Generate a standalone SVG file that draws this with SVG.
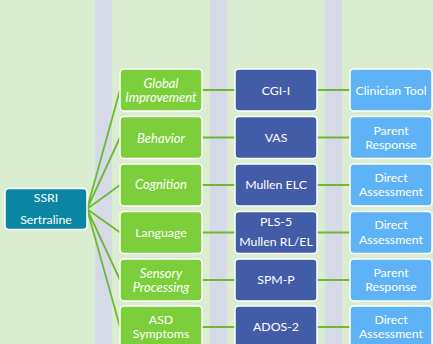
<svg xmlns="http://www.w3.org/2000/svg" width="433" height="344" viewBox="0 0 433 344">
<style>
.t{font-family:Lato,"Liberation Sans",sans-serif;font-size:12.3px;fill:#fff;text-anchor:middle;dominant-baseline:central}
.i{font-style:italic;font-size:13px}
.b{stroke:#fff;stroke-width:1.5}
.g{fill:#7ccf3a}
.d{fill:#425ca8}
.l{fill:#5db3f6}
.c{stroke:#6fb833;stroke-width:1.8;fill:none}
</style>
<rect width="433" height="344" fill="#dbedd0"/>
<rect x="95" y="0" width="17" height="344" fill="#d6dae6"/>
<rect x="210" y="0" width="17" height="344" fill="#d6dae6"/>
<rect x="325" y="0" width="17" height="344" fill="#d6dae6"/>
<g id="connectors">
<path class="c" d="M87 209L120 90M87 209L120 137.5M87 209L120 185M87 209L120 232.5M87 209L120 280M87 209L120 327"/>
<path class="c" d="M202 90H235M317 90H350M202 137.5H235M317 137.5H350M202 185H235M317 185H350M202 232.5H235M317 232.5H350M202 280H235M317 280H350M202 327H235M317 327H350"/>
</g>
<g id="ssri"><rect class="b" x="5" y="188.5" width="82" height="41" rx="4" fill="#0b86a2"/><text class="t" x="46" y="197">SSRI</text><text class="t" x="46" y="219.5">Sertraline</text></g>
<g id="global"><rect class="b g" x="120" y="69" width="82" height="42" rx="4"/><text class="t i" x="161" y="82.5">Global</text><text class="t i" x="161" y="97">Improvement</text></g>
<g id="behavior"><rect class="b g" x="120" y="116.5" width="82" height="42" rx="4"/><text class="t i" x="161" y="137.5">Behavior</text></g>
<g id="cognition"><rect class="b g" x="120" y="164" width="82" height="42" rx="4"/><text class="t i" x="161" y="184">Cognition</text></g>
<g id="language"><rect class="b g" x="120" y="211.5" width="82" height="42" rx="4"/><text class="t" x="161" y="232">Language</text></g>
<g id="sensory"><rect class="b g" x="120" y="259" width="82" height="42" rx="4"/><text class="t i" x="161" y="272.5">Sensory</text><text class="t i" x="161" y="287">Processing</text></g>
<g id="asd"><rect class="b g" x="120" y="306" width="82" height="44" rx="4"/><text class="t" x="161" y="319">ASD</text><text class="t" x="161" y="333">Symptoms</text></g>
<g id="cgi"><rect class="b d" x="235" y="69" width="82" height="42" rx="4"/><text class="t" x="276" y="90">CGI-I</text></g>
<g id="vas"><rect class="b d" x="235" y="116.5" width="82" height="42" rx="4"/><text class="t" x="276" y="137">VAS</text></g>
<g id="mullenelc"><rect class="b d" x="235" y="164" width="82" height="42" rx="4"/><text class="t" x="276" y="184">Mullen ELC</text></g>
<g id="pls"><rect class="b d" x="235" y="211.5" width="82" height="42" rx="4"/><text class="t" x="276" y="221">PLS-5</text><text class="t" x="276" y="241.5">Mullen RL/EL</text></g>
<g id="spm"><rect class="b d" x="235" y="259" width="82" height="42" rx="4"/><text class="t" x="276" y="279">SPM-P</text></g>
<g id="ados"><rect class="b d" x="235" y="306" width="82" height="44" rx="4"/><text class="t" x="276" y="326">ADOS-2</text></g>
<g id="clinician"><rect class="b l" x="350" y="69" width="82" height="42" rx="4"/><text class="t" x="391" y="90">Clinician Tool</text></g>
<g id="parent1"><rect class="b l" x="350" y="116.5" width="82" height="42" rx="4"/><text class="t" x="391" y="130">Parent</text><text class="t" x="391" y="144">Response</text></g>
<g id="direct1"><rect class="b l" x="350" y="164" width="82" height="42" rx="4"/><text class="t" x="391" y="177">Direct</text><text class="t" x="391" y="191.5">Assessment</text></g>
<g id="direct2"><rect class="b l" x="350" y="211.5" width="82" height="42" rx="4"/><text class="t" x="391" y="224.5">Direct</text><text class="t" x="391" y="239">Assessment</text></g>
<g id="parent2"><rect class="b l" x="350" y="259" width="82" height="42" rx="4"/><text class="t" x="391" y="272">Parent</text><text class="t" x="391" y="286">Response</text></g>
<g id="direct3"><rect class="b l" x="350" y="306" width="82" height="44" rx="4"/><text class="t" x="391" y="319">Direct</text><text class="t" x="391" y="333">Assessment</text></g>
</svg>
